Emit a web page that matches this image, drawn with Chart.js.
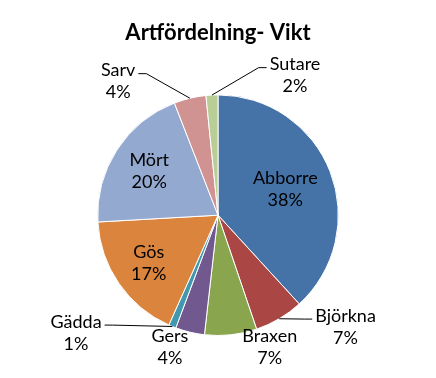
<!DOCTYPE html>
<html>
<head>
<meta charset="utf-8">
<script src="https://cdn.jsdelivr.net/npm/chart.js@4"></script>
<style>
  html, body { margin: 0; padding: 0; background: #fff; }
  #wrap { width: 436px; height: 378px; }
</style>
</head>
<body>
<div id="wrap"><canvas id="artfordelning"></canvas></div>
<script>
const arter = ["Abborre", "Björkna", "Braxen", "Gers", "Gädda", "Gös", "Mört", "Sarv", "Sutare"];
const vikt_andel = [38.2, 6.6, 7.0, 3.9, 1.0, 17.4, 20.0, 4.3, 1.6];
const farger = ["#4572A7", "#AA4643", "#89A54E", "#71588F", "#4198AF", "#DB843D", "#93A9CF", "#D19392", "#B9CD96"];

const typsnitt = "Lato, 'Open Sans', sans-serif";

// var etiketterna hamnar: inne i tårtbiten (r = andel av radien) eller utanför
// (dx, dy i radier från mitten, linje = hävarm till biten)
const placering = [
  { inne: 0.6 },
  { dx: 1.06, dy: 0.93, linje: "vanster" },
  { dx: 0.43, dy: 1.10 },
  { dx: -0.40, dy: 1.10 },
  { dx: -1.18, dy: 0.98, linje: "hoger" },
  { inne: 0.7 },
  { inne: 0.68 },
  { dx: -0.83, dy: -1.11, linje: "hoger" },
  { dx: 0.64, dy: -1.16, linje: "vanster" },
];

const plugin_etiketter = {
  id: "etiketter",
  afterDatasetsDraw: (chart) => {
    const ctx = chart.ctx;
    const meta = chart.getDatasetMeta(0);
    const total = vikt_andel.reduce((a, b) => a + b, 0);
    ctx.save();
    ctx.font = "18px " + typsnitt;
    ctx.fillStyle = "#000";
    ctx.textAlign = "center";
    ctx.textBaseline = "middle";
    meta.data.forEach((arc, i) => {
      const { x, y, startAngle, endAngle, outerRadius } = arc.getProps(
        ["x", "y", "startAngle", "endAngle", "outerRadius"], true);
      const mitt = (startAngle + endAngle) / 2;
      const p = placering[i];
      const rad1 = arter[i];
      const rad2 = Math.round((vikt_andel[i] / total) * 100) + "%";
      let lx, ly;
      if (p.inne) {
        lx = x + Math.cos(mitt) * outerRadius * p.inne;
        ly = y + Math.sin(mitt) * outerRadius * p.inne;
      } else {
        lx = x + p.dx * outerRadius;
        ly = y + p.dy * outerRadius;
      }
      const y1 = ly - 11;
      const y2 = ly + 11;
      ctx.fillText(rad1, lx, y1);
      ctx.fillText(rad2, lx, y2);

      if (p.linje) {
        const bredd = ctx.measureText(rad1).width;
        const ax = x + Math.cos(mitt) * outerRadius;
        const ay = y + Math.sin(mitt) * outerRadius;
        const ly1 = y1 + 3;
        const kant = p.linje === "hoger" ? lx + bredd / 2 + 3 : lx - bredd / 2 - 3;
        const knä = p.linje === "hoger" ? kant + 8 : kant - 8;
        ctx.beginPath();
        ctx.strokeStyle = "#000";
        ctx.lineWidth = 1;
        ctx.moveTo(kant, ly1);
        ctx.lineTo(knä, ly1);
        ctx.lineTo(ax, ay);
        ctx.stroke();
      }
    });
    ctx.restore();
  },
};

const ctx = document.getElementById("artfordelning").getContext("2d");
const chart_artfordelning = new Chart(ctx, {
  type: "pie",
  data: {
    labels: arter,
    datasets: [
      {
        data: vikt_andel,
        backgroundColor: farger,
        borderColor: "#fff",
        borderWidth: 1,
        hoverOffset: 0,
      },
    ],
  },
  options: {
    responsive: true,
    maintainAspectRatio: false,
    animation: false,
    layout: {
      padding: { top: 0, bottom: 42, left: 0, right: 0 },
    },
    plugins: {
      title: {
        display: true,
        text: "Artfördelning- Vikt",
        color: "#000",
        font: { family: typsnitt, size: 22, weight: "bold" },
        padding: { top: 20, bottom: 48 },
      },
      legend: { display: false },
      tooltip: { enabled: false },
    },
  },
  plugins: [plugin_etiketter],
});
</script>
</body>
</html>
